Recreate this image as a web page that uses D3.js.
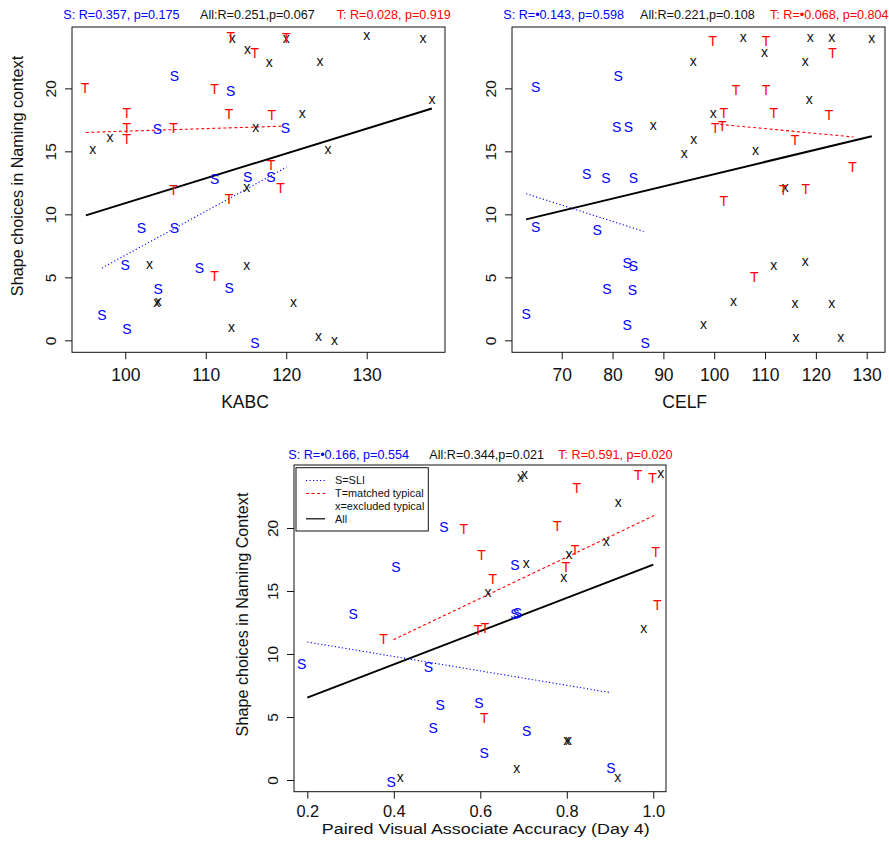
<!DOCTYPE html>
<html>
<head>
<meta charset="utf-8">
<script src="https://cdn.jsdelivr.net/npm/d3@7"></script>
<style>
  body { margin: 0; background: #fff; }
  svg { display: block; font-family: "Liberation Sans", Arial, Helvetica, sans-serif; }
</style>
</head>
<body>
<svg id="chart" width="889" height="847"></svg>
<script>
// ---- data (x, y) ----
const kabcS = [[106.1,21.0],[113.1,19.8],[104.0,16.8],[119.9,16.85],[111.1,12.8],[115.2,13.0],[118.1,13.0],
  [102.0,8.94],[106.1,8.94],[100.0,5.95],[109.2,5.77],[112.9,4.18],[104.1,4.05],[97.1,1.98],[100.2,0.93],[116.1,-0.18]];
const kabcT = [[95.0,20.06],[111.1,19.97],[113.1,24.1],[116.1,22.8],[120.0,24.0],[100.2,18.07],[100.2,16.85],
  [100.2,16.0],[106.0,16.85],[112.9,18.0],[118.2,17.9],[118.1,13.9],[119.3,12.09],[106.0,11.9],[112.9,11.2],[111.1,5.08]];
const kabcX = [[113.3,23.9],[115.2,23.0],[117.9,21.96],[120.0,23.9],[130.0,24.1],[137.0,23.9],[124.2,22.1],
  [138.1,19.05],[122.0,17.9],[116.2,16.8],[98.1,16.05],[95.95,15.08],[125.2,15.08],[115.1,12.1],[103.0,5.95],
  [115.1,5.87],[104.1,3.04],[103.9,2.96],[113.2,0.93],[120.9,2.91],[124.0,0.26],[126.0,-0.08]];

const celfS = [[64.9,20.1],[81.1,21.0],[80.8,16.9],[83.1,16.9],[74.9,13.2],[78.7,12.9],[84.1,12.9],[64.9,9.0],
  [77.0,8.8],[82.9,6.14],[84.1,5.87],[78.9,4.1],[83.9,3.97],[63.0,2.12],[82.9,1.19],[86.4,-0.18]];
const celfT = [[99.7,23.8],[110.2,23.8],[123.3,22.8],[104.3,19.9],[110.2,19.9],[101.9,18.07],[111.7,18.07],
  [122.6,17.9],[100.2,16.85],[101.6,17.0],[115.9,15.9],[127.2,13.8],[113.6,11.96],[118.0,12.0],[101.9,11.06],[107.9,5.03]];
const celfX = [[105.7,24.0],[118.9,24.0],[123.1,24.0],[131.0,23.9],[109.9,22.8],[95.9,22.1],[117.9,22.1],
  [118.7,19.05],[99.8,17.94],[88.0,17.0],[96.0,15.9],[94.1,14.8],[108.1,15.0],[114.0,12.1],[111.7,5.87],
  [117.9,6.16],[103.8,2.99],[115.9,2.86],[123.1,2.86],[97.9,1.19],[116.1,0.18],[124.9,0.18]];

const pvaS = [[0.516,20.09],[0.405,16.88],[0.680,17.04],[0.306,13.2],[0.680,13.17],[0.686,13.25],[0.187,9.22],
  [0.480,8.96],[0.507,5.96],[0.597,6.1],[0.491,4.11],[0.707,3.9],[0.609,2.12],[0.902,0.93],[0.394,-0.13]];
const pvaT = [[0.562,19.95],[0.603,17.89],[0.629,15.98],[0.823,23.19],[0.778,20.19],[0.819,18.28],[0.798,16.9],
  [0.965,24.17],[0.998,23.98],[1.006,18.07],[1.009,13.91],[0.376,11.2],[0.595,11.92],[0.611,12.06],[0.609,4.95]];
const pvaX = [[0.618,14.84],[0.706,17.09],[0.693,23.93],[0.702,24.17],[0.919,21.92],[0.891,18.86],[0.805,17.8],
  [0.793,16.03],[1.017,24.25],[0.978,11.98],[0.800,3.04],[0.804,3.04],[0.684,0.85],[0.918,0.13],[0.415,0.13]];

// regression segments (end points)
const kabcFitAll = [[95.1,9.92],[138.1,18.4]];
const kabcFitS = [[97.1,5.74],[120.05,13.75]];
const kabcFitT = [[95.1,16.5],[119.6,17.0]];
const celfFitAll = [[63.0,9.6],[131.0,16.2]];
const celfFitS = [[63.0,11.64],[86.1,8.65]];
const celfFitT = [[101.2,17.14],[127.4,16.14]];
const pvaFitAll = [[0.2,6.54],[1.0,17.09]];
const pvaFitS = [[0.2,10.95],[0.9,6.94]];
const pvaFitT = [[0.399,11.13],[1.002,20.99]];

const kabcStats = ["S: R=0.357, p=0.175", "All:R=0.251,p=0.067", "T: R=0.028, p=0.919"];
const celfStats = ["S: R=\u20220.143, p=0.598", "All:R=0.221,p=0.108", "T: R=\u20220.068, p=0.804"];
const pvaStats = ["S: R=\u20220.166, p=0.554", "All:R=0.344,p=0.021", "T: R=0.591, p=0.020"];

const kabcTicks = [100, 110, 120, 130];
const celfTicks = [70, 80, 90, 100, 110, 120, 130];
const pvaTicks = [0.2, 0.4, 0.6, 0.8, 1.0];
const yTicks = [0, 5, 10, 15, 20];

const legendLabels = ["S=SLI", "T=matched typical", "x=excluded typical", "All"];

// ---- styles ----
const BLUE = "#0000ff", RED = "#ff0000", INK = "#111";
const statColors = [BLUE, INK, RED];
const fitStyle = {
  S:   {color: BLUE, width: 1.1, dash: "1.2,2.3"},
  T:   {color: RED, width: 1.1, dash: "3,2.5"},
  All: {color: "#000", width: 2, dash: null}
};

const svg = d3.select("#chart");

const panels = [
  {left: 72, right: 445, top: 27, bottom: 352.3, xDom: [93.38, 139.73], yDom: [-0.95, 24.87],
   xTicks: kabcTicks, fmt: d3.format("d"), S: kabcS, T: kabcT, X: kabcX,
   fits: {S: kabcFitS, T: kabcFitT, All: kabcFitAll}, stats: kabcStats,
   statX: [63.3, 200, 336.7], statY: 19.3,
   xLabel: "KABC", xLabelX: 245, xLabelY: 408.3, xLabelSize: 17.5,
   xTickY: 28.4, xTickSize: 17.5,
   yLabel: "Shape choices in Naming context", yLabelX: 23.2, yLabelY: 176},
  {left: 512, right: 885, top: 27, bottom: 352.3, xDom: [60.22, 133.6], yDom: [-0.95, 24.87],
   xTicks: celfTicks, fmt: d3.format("d"), S: celfS, T: celfT, X: celfX,
   fits: {S: celfFitS, T: celfFitT, All: celfFitAll}, stats: celfStats,
   statX: [503.3, 640, 770], statY: 19.3,
   xLabel: "CELF", xLabelX: 684.7, xLabelY: 408.3, xLabelSize: 17.5,
   xTickY: 28.4, xTickSize: 17.5,
   yLabel: null},
  {left: 294, right: 666, top: 465, bottom: 791.7, xDom: [0.1692, 1.0294], yDom: [-0.93, 25.0],
   xTicks: pvaTicks, fmt: d3.format(".1f"), S: pvaS, T: pvaT, X: pvaX,
   fits: {S: pvaFitS, T: pvaFitT, All: pvaFitAll}, stats: pvaStats,
   statX: [288.3, 429.3, 558.3], statY: 459.3,
   xLabel: "Paired Visual Associate Accuracy (Day 4)", xLabelX: 485.8, xLabelY: 833.7, xLabelSize: 15.5,
   xLabelLen: 328, xTickY: 25, xTickSize: 16.4,
   yLabel: "Shape choices in Naming Context", yLabelX: 248.2, yLabelY: 614.5,
   legend: true}
];

function drawPanel(p) {
  const x = d3.scaleLinear().domain(p.xDom).range([p.left, p.right]);
  const y = d3.scaleLinear().domain(p.yDom).range([p.bottom, p.top]);
  const g = svg.append("g");

  // x axis
  const gx = g.append("g")
    .attr("transform", `translate(0,${p.bottom})`)
    .call(d3.axisBottom(x).tickValues(p.xTicks).tickFormat(p.fmt).tickSize(7).tickSizeOuter(0));
  gx.select(".domain").remove();
  gx.selectAll(".tick line").attr("stroke", INK);
  gx.selectAll(".tick text")
    .attr("y", p.xTickY).attr("dy", 0)
    .attr("fill", INK)
    .style("font-size", p.xTickSize + "px")
    .style("font-family", null);

  // y axis, labels parallel to the axis
  const gy = g.append("g")
    .attr("transform", `translate(${p.left},0)`)
    .call(d3.axisLeft(y).tickValues(yTicks).tickSize(7).tickSizeOuter(0));
  gy.select(".domain").remove();
  gy.selectAll(".tick line").attr("stroke", INK);
  gy.selectAll(".tick text")
    .attr("x", 0).attr("dy", 0)
    .attr("text-anchor", "middle")
    .attr("transform", "translate(-16.5,0) rotate(-90)")
    .attr("fill", INK)
    .style("font-size", "15.5px")
    .style("font-family", null);

  // box
  g.append("rect")
    .attr("x", p.left).attr("y", p.top)
    .attr("width", p.right - p.left).attr("height", p.bottom - p.top)
    .attr("fill", "none").attr("stroke", INK).attr("stroke-width", 1);

  // fit lines
  const line = d3.line().x(d => x(d[0])).y(d => y(d[1]));
  ["All", "S", "T"].forEach(k => {
    const st = fitStyle[k];
    g.append("path")
      .attr("d", line(p.fits[k]))
      .attr("fill", "none")
      .attr("stroke", st.color)
      .attr("stroke-width", st.width)
      .attr("stroke-dasharray", st.dash);
  });

  // point markers as letters
  const groups = [
    {pts: p.X, ch: "x", color: INK, dy: "0.26em"},
    {pts: p.S, ch: "S", color: BLUE, dy: "0.36em"},
    {pts: p.T, ch: "T", color: RED, dy: "0.36em"}
  ];
  groups.forEach(grp => {
    g.selectAll(null)
      .data(grp.pts)
      .enter()
      .append("text")
      .attr("x", d => x(d[0]))
      .attr("y", d => y(d[1]))
      .attr("dy", grp.dy)
      .attr("text-anchor", "middle")
      .attr("fill", grp.color)
      .style("font-size", "14px")
      .text(grp.ch);
  });

  // stats above the plot
  p.stats.forEach((s, i) => {
    g.append("text")
      .attr("x", p.statX[i]).attr("y", p.statY)
      .attr("fill", statColors[i])
      .style("font-size", "12.6px")
      .text(s);
  });

  // axis titles
  const xl = g.append("text")
    .attr("x", p.xLabelX).attr("y", p.xLabelY)
    .attr("text-anchor", "middle")
    .attr("fill", INK)
    .style("font-size", p.xLabelSize + "px")
    .text(p.xLabel);
  if (p.xLabelLen) xl.attr("textLength", p.xLabelLen).attr("lengthAdjust", "spacingAndGlyphs");

  if (p.yLabel) {
    g.append("text")
      .attr("transform", `translate(${p.yLabelX},${p.yLabelY}) rotate(-90)`)
      .attr("text-anchor", "middle")
      .attr("fill", INK)
      .style("font-size", "16.2px")
      .text(p.yLabel);
  }

  if (p.legend) drawLegend(g);
}

function drawLegend(g) {
  const lx = 296, ly = 467.7, lw = 132.3, lh = 63.3;
  g.append("rect")
    .attr("x", lx).attr("y", ly).attr("width", lw).attr("height", lh)
    .attr("fill", "#fff").attr("stroke", INK).attr("stroke-width", 1);
  const keys = ["S", "T", null, "All"];
  const rowY = [480.5, 493.5, 506.3, 518.8];
  legendLabels.forEach((lab, i) => {
    const k = keys[i];
    if (k) {
      const st = fitStyle[k];
      g.append("line")
        .attr("x1", 306).attr("x2", 325)
        .attr("y1", rowY[i]).attr("y2", rowY[i])
        .attr("stroke", st.color)
        .attr("stroke-width", k === "All" ? 1.2 : st.width)
        .attr("stroke-dasharray", st.dash);
    }
    g.append("text")
      .attr("x", 335).attr("y", rowY[i])
      .attr("dy", "0.36em")
      .attr("fill", INK)
      .style("font-size", "10.9px")
      .text(lab);
  });
}

panels.forEach(drawPanel);
</script>
</body>
</html>
